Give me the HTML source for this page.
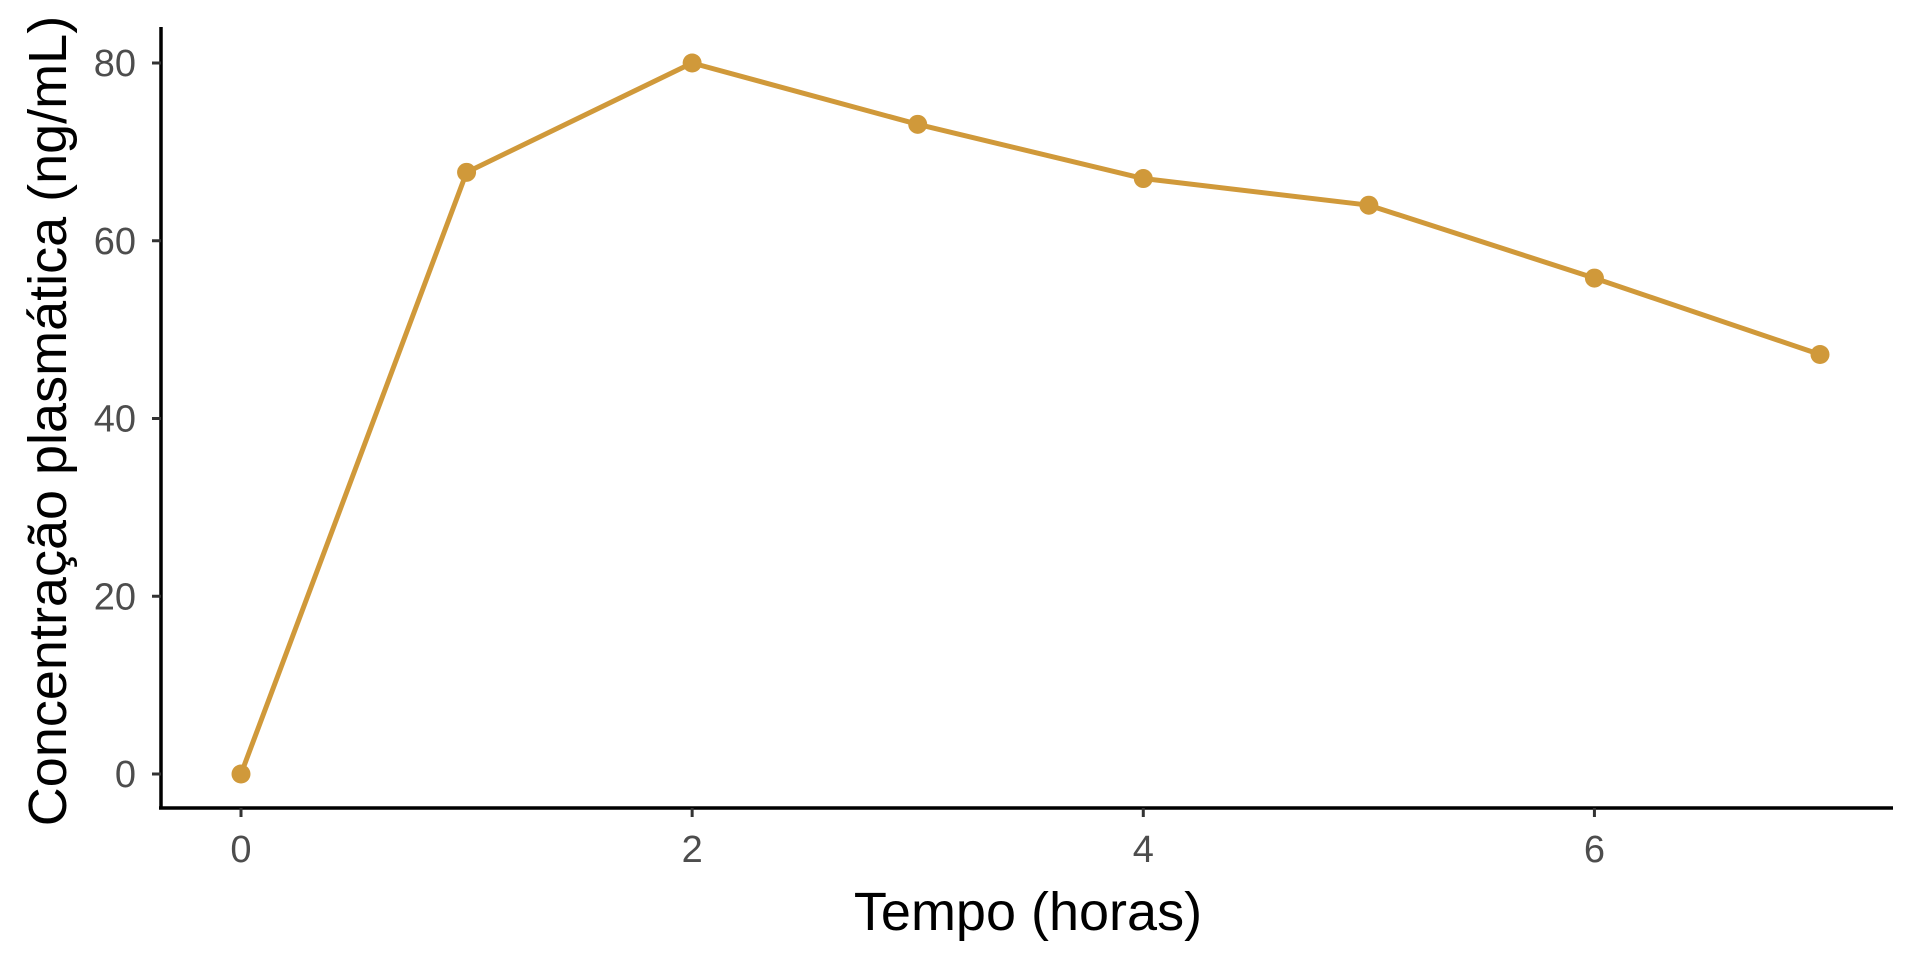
<!DOCTYPE html>
<html><head><meta charset="utf-8"><style>
html,body{margin:0;padding:0;background:#fff;}
svg{display:block;font-family:"Liberation Sans",sans-serif;}
</style></head><body>
<svg id="chart" width="1920" height="960"></svg>
<script>
const hours=[0,1,2,3,4,5,6,7];
const conc=[0,67.7,80,73.1,67,64,55.8,47.2];
const xTicks=[0,2,4,6];
const yTicks=[0,20,40,60,80];
const NS="http://www.w3.org/2000/svg";
const svg=document.getElementById('chart');
const X=v=>241+v*(1820-241)/7;
const Y=v=>774-v*(774-63)/80;
function mk(t,a,p){const e=document.createElementNS(NS,t);for(const k in a)e.setAttribute(k,a[k]);(p||svg).appendChild(e);return e;}
const col="#D0993A";
let e;
e=mk('line',{x1:161,y1:27,x2:161,y2:809,stroke:'#000','stroke-width':3.5});


e=mk('line',{x1:159,y1:808,x2:1893,y2:808,stroke:'#000','stroke-width':3.5});


yTicks.forEach(v=>{
 e=mk('line',{x1:152,y1:Y(v),x2:161,y2:Y(v),stroke:'#333','stroke-width':3});
 
 
 e=mk('text',{x:136,y:Y(v)+13,'text-anchor':'end','font-size':38,fill:'#4d4d4d'});
 e.textContent=v;
 
 
});
xTicks.forEach(v=>{
 e=mk('line',{x1:X(v),y1:808,x2:X(v),y2:817,stroke:'#333','stroke-width':3});
 
 
 e=mk('text',{x:X(v),y:862,'text-anchor':'middle','font-size':38,fill:'#4d4d4d'});
 e.textContent=v;
 
 
});
e=mk('polyline',{points:hours.map((h,i)=>X(h)+','+Y(conc[i])).join(' '),fill:'none',stroke:col,'stroke-width':5,'stroke-linejoin':'round'});


hours.forEach((h,i)=>{
 e=mk('circle',{cx:X(h),cy:Y(conc[i]),r:9.5,fill:col});
 
 
});
e=mk('text',{x:1028,y:930,'text-anchor':'middle','font-size':54,fill:'#000'});
e.textContent='Tempo (horas)';


e=mk('text',{x:0,y:0,'text-anchor':'middle','font-size':54,fill:'#000',transform:'translate(66,421) rotate(-90)'});
e.textContent='Concentração plasmática (ng/mL)';


</script>
</body></html>
